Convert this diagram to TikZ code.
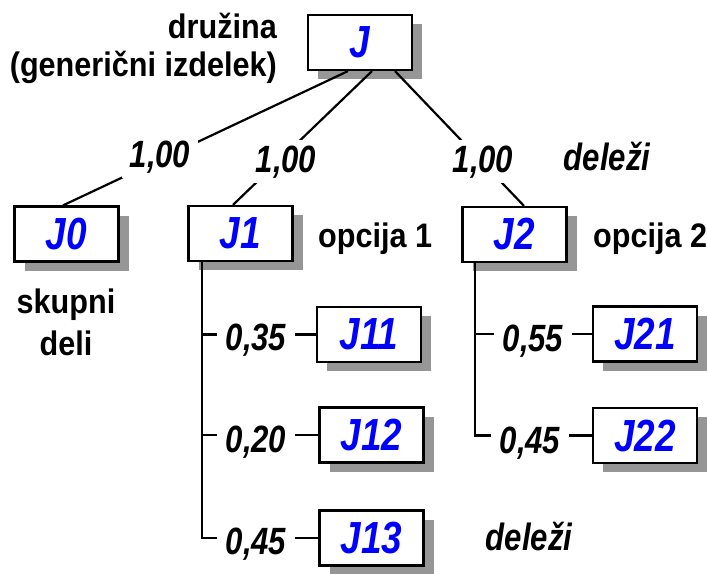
\documentclass[tikz,border=0pt]{standalone}
\usepackage{fontspec}
\setmainfont{Liberation Sans}
\newfontfamily\narrowf[FakeStretch=0.82]{Liberation Sans}
\newfontfamily\semif[FakeStretch=0.9]{Liberation Sans}
\usetikzlibrary{shadows}
\definecolor{shadowgray}{RGB}{150,150,150}
\definecolor{lblue}{RGB}{0,0,255}
\begin{document}
\begin{tikzpicture}[x=1pt,y=-1pt,
  box/.style={draw, line width=2.2pt, fill=white, minimum width=104pt, minimum height=55pt,
    inner sep=0pt, text=lblue, font=\narrowf\fontsize{45}{46}\selectfont\bfseries\itshape,
    drop shadow={shadow xshift=10pt, shadow yshift=-9pt, fill=shadowgray, opacity=1}},
  txt/.style={inner sep=0pt, font=\semif\fontsize{34}{38}\selectfont\bfseries},
  num/.style={inner sep=0pt, font=\narrowf\fontsize{38}{40}\selectfont\bfseries\itshape},
  wnum/.style={num, fill=white, inner xsep=8pt, inner ysep=5pt},
  conn/.style={line width=2.2pt},
]
\useasboundingbox[fill=white] (0,0) rectangle (708,573);

% boxes
\node[box] (J)   at (360,42.5)  {J};
\node[box] (J0)  at (66.5,234)  {J0};
\node[box] (J1)  at (240.5,233.5) {J1};
\node[box] (J2)  at (514.5,234.5) {J2};
\node[box] (J11) at (369,334.5) {J11};
\node[box] (J12) at (371.5,435) {J12};
\node[box] (J13) at (371.5,538) {J13};
\node[box] (J21) at (645,334)   {J21};
\node[box] (J22) at (645,435.5) {J22};

% connectors
\draw[conn] ([xshift=-12pt]J.south) -- ([xshift=-3.5pt]J0.north);
\draw[conn] ([xshift=12pt]J.south) -- ([xshift=-7.5pt]J1.north);
\draw[conn] ([xshift=35pt]J.south) -- ([xshift=9.5pt]J2.north);

\coordinate (t1) at ([xshift=14.5pt]J1.south west);
\draw[conn] (t1) |- (J13.west);
\draw[conn] (t1 |- J11.west) -- (J11.west);
\draw[conn] (t1 |- J12.west) -- (J12.west);

\coordinate (t2) at ([xshift=13.5pt]J2.south west);
\draw[conn] (t2) |- (J22.west);
\draw[conn] (t2 |- J21.west) -- (J21.west);

% share labels
\node[wnum, anchor=base] (w0) at (160,167) {1,00};
\node[wnum, anchor=base] (w1) at (286,172) {1,00};
\node[wnum, anchor=base] (w2) at (483,172) {1,00};
\node[num, anchor=base] (d1) at (607,170) {deleži};

\node[wnum, anchor=base, inner xsep=9pt] (p11) at (256,350) {0,35};
\node[wnum, anchor=base, inner xsep=9pt] (p12) at (256,452) {0,20};
\node[wnum, anchor=base, inner xsep=9pt] (p13) at (256,554) {0,45};
\node[wnum, anchor=base, inner xsep=9pt] (p21) at (533,351) {0,55};
\node[wnum, anchor=base, inner xsep=9pt] (p22) at (530,453) {0,45};
\node[num, anchor=base] (d2) at (529,550) {deleži};

% text labels
\node[txt, align=right, anchor=east] (fam) at (277,48) {družina\\(generični izdelek)};
\node[txt, anchor=base west] (o1) at (318,247) {opcija 1};
\node[txt, anchor=base west] (o2) at (593,247) {opcija 2};
\node[inner sep=0pt, font=\semif\fontsize{34}{42}\selectfont\bfseries, align=center] (sk) at (66,322) {skupni\\deli};
\end{tikzpicture}
\end{document}
